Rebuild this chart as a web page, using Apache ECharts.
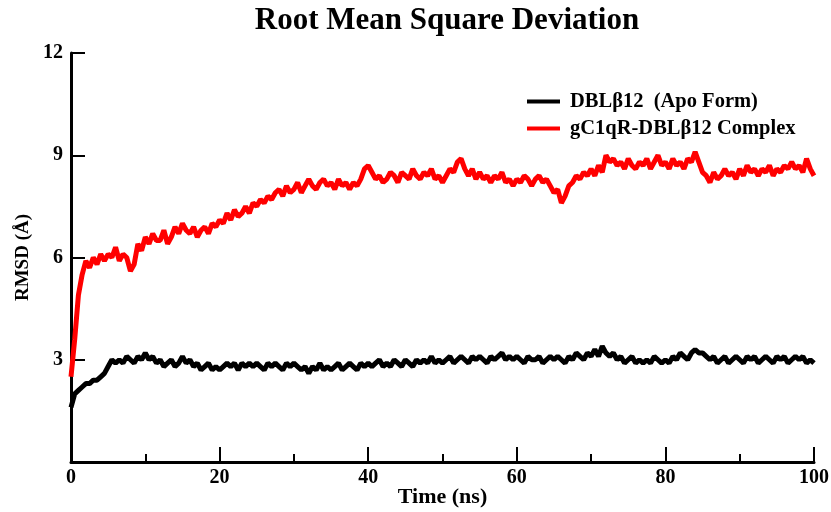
<!DOCTYPE html>
<html>
<head>
<meta charset="utf-8">
<script src="https://cdn.jsdelivr.net/npm/echarts@6/dist/echarts.min.js"></script>
<style>
  html, body { margin: 0; padding: 0; background: #fff; }
  #chart-rmsd { width: 831px; height: 512px; }
</style>
</head>
<body>
<div id="chart-rmsd"></div>
<script>
// time step of the trajectory samples (ns)
var timeStep = 0.5;
var seriesNames = ['DBL\u03b212  (Apo Form)', 'gC1qR-DBL\u03b212 Complex'];
var xTicks = [0, 20, 40, 60, 80, 100];
var yTicks = [3, 6, 9, 12];

// RMSD (Å), one value every 0.5 ns from 0 to 100 ns
var apoRmsd = [
    1.6, 2.0, 2.1, 2.2, 2.3, 2.3, 2.4, 2.4, 2.5, 2.6,
    2.8, 3.0, 2.9, 3.0, 2.9, 3.1, 3.0, 2.9, 3.1, 3.0,
    3.2, 3.0, 3.1, 2.9, 3.0, 2.8, 2.9, 3.0, 2.8, 2.9,
    3.1, 2.9, 3.0, 2.8, 2.9, 2.7, 2.8, 2.9, 2.7, 2.8,
    2.7, 2.8, 2.9, 2.8, 2.9, 2.7, 2.9, 2.8, 2.9, 2.8,
    2.9, 2.8, 2.7, 2.9, 2.8, 2.9, 2.8, 2.7, 2.9, 2.8,
    2.9, 2.8, 2.7, 2.8, 2.6, 2.8, 2.7, 2.9, 2.7, 2.8,
    2.7, 2.8, 2.9, 2.7, 2.8, 2.9, 2.8, 2.7, 2.9, 2.8,
    2.9, 2.8, 2.9, 3.0, 2.8, 2.9, 2.8, 3.0, 2.9, 2.8,
    3.0, 2.9, 2.8, 3.0, 2.9, 3.0, 2.9, 3.1, 2.9, 3.0,
    2.9, 3.0, 3.1, 2.9, 3.0, 3.1, 3.0, 2.9, 3.1, 3.0,
    3.1, 3.0, 2.9, 3.1, 3.0, 3.1, 3.2, 3.0, 3.1, 3.0,
    3.1, 3.0, 2.9, 3.1, 3.0, 3.0, 3.1, 2.9, 3.0, 3.1,
    3.0, 3.1, 3.0, 2.9, 3.1, 3.0, 3.2, 3.1, 3.0, 3.2,
    3.1, 3.3, 3.1, 3.4, 3.2, 3.1, 3.2, 3.0, 3.1, 2.9,
    3.0, 3.1, 2.9, 3.0, 2.9, 3.0, 2.9, 3.1, 3.0, 2.9,
    3.0, 2.9, 3.1, 3.0, 3.2, 3.1, 3.0, 3.2, 3.3, 3.2,
    3.2, 3.1, 3.0, 3.1, 2.9, 3.0, 3.1, 2.9, 3.0, 3.1,
    3.0, 2.9, 3.1, 3.0, 3.1, 2.9, 3.0, 3.1, 3.0, 2.9,
    3.1, 3.0, 3.1, 2.9, 3.0, 3.1, 3.0, 3.1, 2.9, 3.0,
    2.9
];
var complexRmsd = [
    2.5, 3.6, 4.9, 5.5, 5.9, 5.7, 6.0, 5.8, 6.1, 5.9,
    6.1, 6.0, 6.3, 5.9, 6.1, 6.0, 5.6, 5.8, 6.4, 6.2,
    6.6, 6.4, 6.7, 6.5, 6.5, 6.8, 6.4, 6.6, 6.9, 6.7,
    7.0, 6.8, 6.7, 6.9, 6.6, 6.8, 6.9, 6.7, 7.0, 6.9,
    7.1, 7.0, 7.3, 7.1, 7.4, 7.2, 7.3, 7.5, 7.3, 7.6,
    7.5, 7.7, 7.6, 7.8, 7.7, 7.9, 8.0, 7.8, 8.1, 7.9,
    8.0, 8.2, 7.9, 8.1, 8.3, 8.1, 8.0, 8.2, 8.3, 8.1,
    8.2, 8.0, 8.3, 8.1, 8.2, 8.0, 8.2, 8.1, 8.3, 8.6,
    8.7, 8.5, 8.3, 8.4, 8.2, 8.3, 8.5, 8.4, 8.2, 8.5,
    8.4, 8.3, 8.6, 8.4, 8.3, 8.5, 8.4, 8.6, 8.3, 8.4,
    8.2, 8.4, 8.6, 8.5, 8.8, 8.9, 8.6, 8.4, 8.6, 8.3,
    8.5, 8.3, 8.4, 8.2, 8.4, 8.3, 8.5, 8.2, 8.3, 8.1,
    8.3, 8.2, 8.4, 8.3, 8.1, 8.3, 8.4, 8.2, 8.3, 8.1,
    7.9, 8.0, 7.6, 7.8, 8.1, 8.2, 8.4, 8.3, 8.5, 8.4,
    8.6, 8.4, 8.7, 8.5, 9.0, 8.8, 8.9, 8.7, 8.8, 8.6,
    8.9, 8.7, 8.6, 8.8, 8.7, 8.9, 8.6, 8.8, 9.0, 8.7,
    8.8, 8.6, 8.9, 8.7, 8.8, 8.6, 8.9, 8.8, 9.1, 8.8,
    8.5, 8.4, 8.2, 8.5, 8.3, 8.4, 8.6, 8.4, 8.5, 8.3,
    8.6, 8.4, 8.7, 8.5, 8.6, 8.4, 8.6, 8.5, 8.7, 8.4,
    8.6, 8.5, 8.7, 8.6, 8.8, 8.6, 8.7, 8.5, 8.9, 8.6,
    8.4
];

var toPairs = function (values) {
    return values.map(function (v, i) { return [i * timeStep, v]; });
};

var serifBold = {
    fontFamily: '"Liberation Serif", "DejaVu Serif", serif',
    fontWeight: 'bold',
    color: '#000'
};

var rmsdOption = {
    animation: false,
    backgroundColor: '#fff',
    title: {
        text: 'Root Mean Square Deviation',
        left: 442,
        textAlign: 'center',
        top: 0,
        textStyle: Object.assign({ fontSize: 31 }, serifBold)
    },
    legend: {
        orient: 'vertical',
        left: 522,
        top: 86,
        itemWidth: 33,
        itemHeight: 4,
        itemGap: 6,
        icon: 'rect',
        textStyle: Object.assign({ fontSize: 20.5, padding: [0, 0, 0, 5] }, serifBold),
        data: seriesNames
    },
    grid: {
        left: 71,
        right: 17,
        top: 53,
        bottom: 50,
        containLabel: false,
        outerBoundsMode: 'none'
    },
    xAxis: {
        type: 'value',
        min: xTicks[0],
        max: xTicks[xTicks.length - 1],
        interval: xTicks[1] - xTicks[0],
        name: 'Time (ns)',
        nameLocation: 'middle',
        nameGap: 24,
        nameMoveOverlap: false,
        nameTextStyle: Object.assign({ fontSize: 22 }, serifBold),
        axisLine: { onZero: false, lineStyle: { color: '#000', width: 3 } },
        axisTick: { inside: true, length: 15, lineStyle: { color: '#000', width: 2 } },
        minorTick: { show: true, splitNumber: 2, length: 8, lineStyle: { color: '#000', width: 2 } },
        axisLabel: Object.assign({ fontSize: 20, margin: 6 }, serifBold),
        splitLine: { show: false }
    },
    yAxis: {
        type: 'value',
        min: 0,
        max: yTicks[yTicks.length - 1],
        interval: yTicks[1] - yTicks[0],
        name: 'RMSD (\u00c5)',
        nameLocation: 'middle',
        nameGap: 38,
        nameMoveOverlap: false,
        nameTextStyle: Object.assign({ fontSize: 19 }, serifBold),
        axisLine: { onZero: false, lineStyle: { color: '#000', width: 3 } },
        axisTick: { inside: true, length: 14, lineStyle: { color: '#000', width: 2 } },
        axisLabel: Object.assign({
            fontSize: 20,
            margin: 8,
            formatter: function (v) { return v === 0 ? '' : String(v); }
        }, serifBold),
        splitLine: { show: false }
    },
    series: [
        {
            name: seriesNames[0],
            type: 'line',
            showSymbol: false,
            symbol: 'none',
            color: '#000',
            lineStyle: { color: '#000', width: 5 },
            data: toPairs(apoRmsd)
        },
        {
            name: seriesNames[1],
            type: 'line',
            showSymbol: false,
            symbol: 'none',
            color: '#ff0000',
            lineStyle: { color: '#ff0000', width: 5 },
            data: toPairs(complexRmsd)
        }
    ]
};

echarts.init(document.getElementById('chart-rmsd')).setOption(rmsdOption);
</script>
</body>
</html>
